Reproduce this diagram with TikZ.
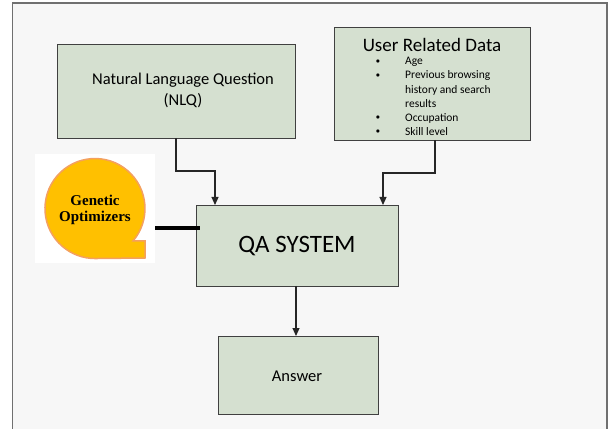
\documentclass[tikz,border=0pt]{standalone}
\usepackage{fontspec}
\setmainfont{Carlito}
\newfontfamily\timesbold{Liberation Serif}
\usetikzlibrary{arrows.meta}
\definecolor{boxfill}{HTML}{D5E0D0}
\definecolor{boxline}{HTML}{404040}
\definecolor{bgfill}{HTML}{F7F7F7}
\definecolor{framec}{HTML}{707070}
\definecolor{bubblefill}{HTML}{FFC000}
\definecolor{bubbleline}{HTML}{F4A060}
\tikzset{
  box/.style={draw=boxline, fill=boxfill, line width=0.8pt},
  conn/.style={draw=black!85, line width=1.1pt, -{Triangle[width=7pt,length=8pt]}},
  txt/.style={inner sep=0pt, text=black},
}
\begin{document}
\begin{tikzpicture}[x=1pt,y=1pt]
\useasboundingbox (0,0) rectangle (609,428);
\fill[white] (0,0) rectangle (609,428);
% frame
\fill[bgfill] (12.5,-2) rectangle (607,425);
\draw[framec, line width=1.5pt] (12.5,-2) -- (12.5,425) -- (607,425) -- (607,-2);
% boxes
\path[box] (57,290) rectangle (295,384);
\coordinate (nlqb) at (176,290);
\path[box] (334,288) rectangle (530,401);
\coordinate (urdb) at (435,288);
\path[box] (196,142) rectangle (398,223);
\coordinate (qaw) at (200,200);
\coordinate (qat1) at (215,223);
\coordinate (qat2) at (383,223);
\coordinate (qab) at (296,142);
\path[box] (218,14) rectangle (378,92);
\coordinate (anst) at (296,92);
% texts
\node[txt, font=\fontsize{16.5}{20}\selectfont] (nlq1) at (183,348) {Natural Language Question};
\node[txt, font=\fontsize{16.5}{20}\selectfont] (nlq2) at (183,327) {(NLQ)};
\node[txt, font=\fontsize{19}{22}\selectfont] (urdt) at (432,383) {User Related Data};
\foreach \yy/\t/\b [count=\i] in {366/Age/1, 352/Previous browsing/1, 338/history and search/0, 324/results/0, 310/Occupation/1, 296/Skill level/1}{
  \node[txt, anchor=west, font=\fontsize{11.5}{14}\selectfont] (ui\i) at (405,\yy) {\t};
  \ifnum\b=1 \node[txt, font=\fontsize{8}{10}\selectfont] (ub\i) at (378,\yy) {$\bullet$};\fi
}
\node[txt, font=\fontsize{25}{30}\selectfont] (qa) at (297,182) {QA SYSTEM};
\node[txt, font=\fontsize{16.5}{20}\selectfont] (ans) at (297,52) {Answer};
% genetic optimizers
\fill[white] (35,165) rectangle (155,274);
\coordinate (gbe) at (155,200);
\path[fill=bubblefill, draw=bubbleline, line width=1.5pt]
  (145,170) -- (145,187) -- (133,187) arc[start angle=-40.5, end angle=270, radius=50] -- cycle;
\node[txt, font=\timesbold\bfseries\fontsize{15}{18}\selectfont] (gen1) at (95,228) {Genetic};
\node[txt, font=\timesbold\bfseries\fontsize{15}{18}\selectfont] (gen2) at (95,210) {Optimizers};
\draw[black, line width=4pt] (gbe) -- (qaw);
% connectors
\draw[conn] (nlqb) -- (176,257) -| (qat1);
\draw[conn] (urdb) -- (435,255) -| (qat2);
\draw[conn] (qab) -- (anst);
\end{tikzpicture}
\end{document}
